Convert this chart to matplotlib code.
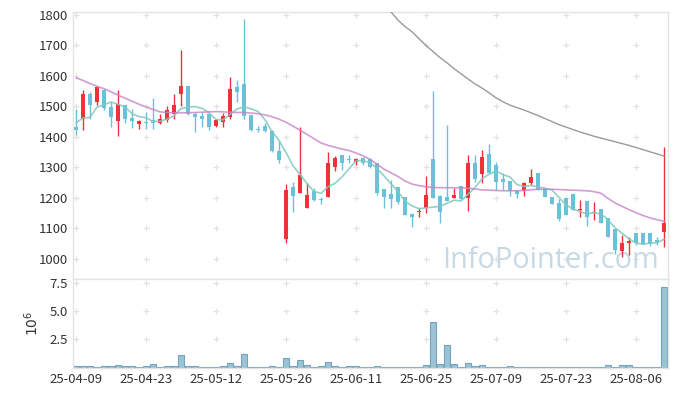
import matplotlib
matplotlib.use("Agg")
import matplotlib.pyplot as plt
import numpy as np

# ---------------- data ----------------
date_labels = ['25-04-09', '25-04-23', '25-05-12', '25-05-26', '25-06-11',
               '25-06-25', '25-07-09', '25-07-23', '25-08-06']

opens = [1432, 1460, 1542, 1515, 1555, 1498, 1452, 1506, 1462, 1443,
         1449, 1455, 1445, 1455, 1476, 1541, 1566, 1474, 1468, 1474,
         1435, 1449, 1466, 1562, 1573, 1471, 1426, 1435, 1419, 1353,
         1064, 1235, 1216, 1167, 1223, 1196, 1203, 1302, 1340, 1328,
         1318, 1332, 1326, 1313, 1228, 1212, 1234, 1201, 1146, 1154,
         1168, 1327, 1205, 1201, 1200, 1238, 1200, 1313, 1277, 1345,
         1307, 1263, 1255, 1225, 1222, 1249, 1282, 1232, 1203, 1184,
         1199, 1212, 1160, 1189, 1151, 1162, 1132, 1099, 1026, 1050,
         1086, 1085, 1083, 1061, 1089]
highs = [1493, 1555, 1546, 1566, 1558, 1515, 1555, 1506, 1490, 1455,
         1482, 1526, 1476, 1500, 1542, 1686, 1566, 1482, 1482, 1476,
         1457, 1479, 1598, 1586, 1786, 1471, 1435, 1444, 1422, 1386,
         1245, 1252, 1433, 1247, 1231, 1203, 1351, 1337, 1340, 1339,
         1332, 1334, 1329, 1313, 1228, 1258, 1234, 1201, 1149, 1165,
         1271, 1550, 1209, 1438, 1233, 1238, 1339, 1340, 1357, 1375,
         1318, 1280, 1255, 1227, 1252, 1293, 1282, 1232, 1203, 1197,
         1199, 1212, 1192, 1189, 1186, 1162, 1132, 1099, 1078, 1072,
         1086, 1085, 1083, 1070, 1367]
lows = [1405, 1424, 1457, 1506, 1487, 1433, 1404, 1444, 1430, 1426,
        1427, 1426, 1441, 1449, 1460, 1502, 1471, 1416, 1433, 1422,
        1433, 1433, 1460, 1515, 1457, 1420, 1416, 1416, 1349, 1313,
        1052, 1152, 1216, 1167, 1189, 1181, 1203, 1289, 1291, 1313,
        1309, 1309, 1297, 1209, 1168, 1168, 1181, 1143, 1105, 1136,
        1149, 1200, 1118, 1189, 1200, 1195, 1156, 1252, 1249, 1280,
        1225, 1227, 1205, 1198, 1205, 1242, 1225, 1201, 1180, 1125,
        1144, 1160, 1138, 1107, 1127, 1118, 1070, 1017, 1007, 1012,
        1045, 1048, 1043, 1045, 1039]
closes = [1422, 1542, 1504, 1563, 1496, 1466, 1507, 1457, 1452, 1451,
          1447, 1446, 1460, 1487, 1504, 1566, 1474, 1466, 1458, 1432,
          1455, 1468, 1556, 1546, 1469, 1422, 1424, 1419, 1353, 1323,
          1225, 1205, 1274, 1208, 1192, 1193, 1313, 1332, 1313, 1325,
          1327, 1313, 1300, 1216, 1203, 1196, 1187, 1143, 1138, 1157,
          1209, 1200, 1154, 1189, 1209, 1195, 1313, 1261, 1335, 1280,
          1252, 1252, 1222, 1211, 1249, 1268, 1227, 1203, 1180, 1129,
          1144, 1160, 1163, 1138, 1153, 1118, 1070, 1028, 1050, 1059,
          1052, 1048, 1048, 1054, 1118]
volumes = [0.12, 0.12, 0.12, 0.04, 0.12, 0.12, 0.21, 0.12, 0.12, 0.01,
           0.12, 0.27, 0.04, 0.12, 0.12, 1.10, 0.12, 0.12, 0.04, 0.04,
           0.04, 0.15, 0.36, 0.15, 1.16, 0.04, 0.04, 0.01, 0.12, 0.04,
           0.89, 0.12, 0.71, 0.21, 0.04, 0.12, 0.45, 0.12, 0.04, 0.12,
           0.12, 0.04, 0.04, 0.12, 0.04, 0.04, 0.01, 0.04, 0.04, 0.01,
           0.21, 4.02, 0.27, 2.05, 0.27, 0.04, 0.36, 0.12, 0.21, 0.04,
           0.04, 0.01, 0.12, 0.04, 0.01, 0.04, 0.04, 0.04, 0.01, 0.04,
           0.04, 0.04, 0.04, 0.01, 0.04, 0.04, 0.21, 0.04, 0.21, 0.21,
           0.04, 0.04, 0.04, 0.04, 7.14]

# first four 5-day average values (need closes before the window)
ma5_head = [1446, 1462, 1464, 1498]

ma20 = [1594, 1585, 1575, 1566, 1558, 1548, 1537, 1527, 1517, 1507,
        1498, 1490, 1482, 1480, 1479, 1479, 1479, 1480, 1481, 1482,
        1483, 1482, 1481, 1480, 1480, 1478, 1476, 1472, 1466, 1458,
        1448, 1435, 1422, 1408, 1394, 1380, 1372, 1366, 1360, 1355,
        1347, 1338, 1326, 1310, 1294, 1282, 1270, 1255, 1245, 1240,
        1236, 1234, 1233, 1233, 1233, 1233, 1231, 1229, 1226, 1225,
        1224, 1223, 1223, 1223, 1224, 1226, 1228, 1228, 1228, 1227,
        1226, 1225, 1224, 1223, 1220, 1215, 1198, 1183, 1172, 1161,
        1151, 1142, 1134, 1128, 1123]

long_ma_start = 44
long_ma = [1835, 1810, 1783, 1762, 1745, 1722, 1700, 1680, 1660, 1643,
           1624, 1607, 1590, 1574, 1560, 1545, 1528, 1515, 1504, 1496,
           1488, 1479, 1470, 1460, 1450, 1440, 1432, 1424, 1416, 1409,
           1402, 1396, 1390, 1384, 1378, 1372, 1365, 1358, 1351, 1344,
           1337]

# ---------------- derived ----------------
n = len(closes)
x = np.arange(n)
o = np.array(opens, float); h = np.array(highs, float)
l = np.array(lows, float); c = np.array(closes, float)
ma5 = np.array([np.nan] * n)
ma5[:4] = ma5_head
for i in range(4, n):
    ma5[i] = c[i - 4:i + 1].mean()

RED = '#ee3338'
BLUE = '#6bc1d9'
up = c >= o
cols = np.where(up, RED, BLUE)

W, H = 677, 397
fig = plt.figure(figsize=(W / 100, H / 100), dpi=100)
fontfam = ['Noto Sans CJK KR', 'DejaVu Sans']
plt.rcParams['font.family'] = fontfam

def fx(px): return px / W
def fy(py): return 1 - py / H

left, right = 73.3, 667.5
top, mid, bot = 11.7, 279.0, 367.5
ax = fig.add_axes([fx(left), fy(mid), fx(right) - fx(left), fy(top) - fy(mid)])
ax2 = fig.add_axes([fx(left), fy(bot), fx(right) - fx(left), fy(mid) - fy(bot)])

frame_col = '#e4e4e4'
grid_col = '#e2e2e2'
for a in (ax, ax2):
    for s in a.spines.values():
        s.set_color(frame_col)
        s.set_linewidth(1.0)
    a.tick_params(length=0, labelsize=9.5, colors='#333333')
    a.set_xlim(-0.39, 84.5)

xt = np.arange(0, 81, 10)

# price panel
ax.set_ylim(933.4, 1810.8)
yt = np.arange(1000, 1801, 100)
ax.set_yticks(yt)
ax.set_yticklabels([str(v) for v in yt])
ax.set_xticks(xt)
ax.set_xticklabels([])
ax.tick_params(axis='y', pad=4)
gx, gy = np.meshgrid(xt, yt)
ax.plot(gx.ravel(), gy.ravel(), ls='none', marker='+', ms=4.5, mew=0.9,
        color=grid_col, zorder=0.5)

# watermark
wm = ax.text(fx(441.7), fy(267.7), 'InfoPointer.com', transform=fig.transFigure,
             family=['Open Sans', 'DejaVu Sans'], fontsize=24, color='#c6d9e4',
             ha='left', va='baseline', zorder=0.6)
fig.canvas.draw()
bb = wm.get_window_extent()
wm.set_fontsize(24 * 217.6 / bb.width)

body_w = 0.66
bottoms = np.minimum(o, c)
heights = np.maximum(np.abs(c - o), 2.5)
ax.vlines(x, l, h, colors=cols, linewidth=1.0, zorder=2)
ax.bar(x, heights, bottom=bottoms, width=body_w, color=cols, linewidth=0, zorder=3)

ax.plot(x, ma5, color='#7fc9bd', lw=1.2, alpha=0.85, zorder=4, solid_capstyle='round')
ax.plot(x, ma20, color='#c684c6', lw=1.2, alpha=0.8, zorder=4, solid_capstyle='round')
ax.plot(np.arange(long_ma_start, long_ma_start + len(long_ma)), long_ma,
        color='#8f8f8f', lw=1.0, alpha=0.9, zorder=4)

# volume panel
ax2.set_ylim(0, 7.89)
vt = [2.5, 5.0, 7.5]
ax2.set_yticks(vt)
ax2.set_yticklabels(['2.5', '5.0', '7.5'])
ax2.set_xticks(xt)
ax2.set_xticklabels(date_labels)
ax2.tick_params(axis='y', pad=4)
ax2.tick_params(axis='x', pad=4)
gx2, gy2 = np.meshgrid(xt, vt)
ax2.plot(gx2.ravel(), gy2.ravel(), ls='none', marker='+', ms=4.5, mew=0.9,
         color=grid_col, zorder=0.5)
ax2.bar(x, volumes, width=0.92, color='#9cc3d5', edgecolor='#73a3bd',
        linewidth=0.8, zorder=2)

fig.text(fx(31.7), fy(323), r'$10^6$', rotation=90, ha='center', va='center',
         fontsize=10, color='#333333')

fig.savefig('out.png', dpi=100)
